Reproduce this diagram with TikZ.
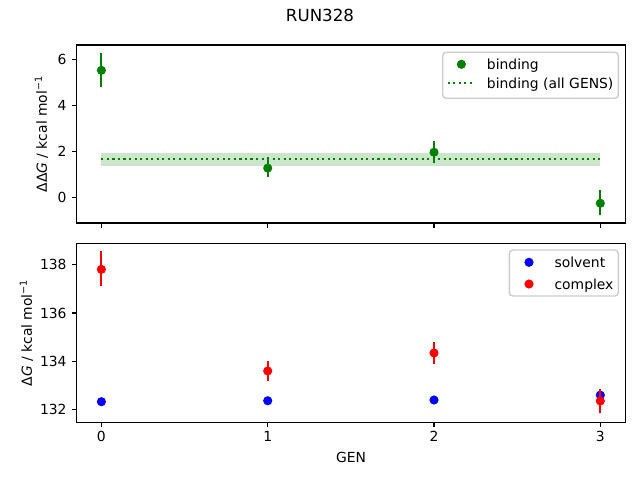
\documentclass[tikz,border=0pt]{standalone}
\usepackage{fontspec}
\setmainfont{DejaVu Sans}
\definecolor{mgreen}{HTML}{008000}
\definecolor{mblue}{HTML}{0000FF}
\definecolor{mred}{HTML}{FF0000}
\definecolor{bandc}{HTML}{CCE6CC}
\definecolor{legedge}{HTML}{CCCCCC}
\begin{document}
\begin{tikzpicture}[x=0.72pt,y=-0.72pt,
  spine/.style={line width=0.8pt, line cap=rect},
  tickmark/.style={line width=0.8pt},
  ebar/.style={line width=1.5pt},
  dotline/.style={line width=1.5pt, dash pattern=on 1.5pt off 2.475pt},
  lab/.style={font=\fontsize{10}{12}\selectfont, inner sep=0pt},
  legbox/.style={draw=legedge, line width=1pt, rounded corners=2.5pt, fill=white, fill opacity=0.8}
]
\def\mr{3.3pt}
\useasboundingbox (0,0) rectangle (640,480);
\node[font=\fontsize{12}{14}\selectfont, inner sep=0pt, anchor=base] (title) at (320,21.8) {RUN328};

% ---------- top axes ----------
\begin{scope}[shift={(101.4,197.3)}, x=119.74pt, y=16.56pt]
  \fill[bandc] (0,1.36) rectangle (3,1.91);
  \draw[mgreen, dotline] (0,1.68) -- (3,1.68);
  \draw[mgreen, ebar] (0,4.81) -- (0,6.27);
  \draw[mgreen, ebar] (1,0.87) -- (1,1.75);
  \draw[mgreen, ebar] (2,1.50) -- (2,2.45);
  \draw[mgreen, ebar] (3,-0.77) -- (3,0.32);
  \fill[mgreen] (0,5.52) circle[radius=\mr];
  \fill[mgreen] (1,1.27) circle[radius=\mr];
  \fill[mgreen] (2,1.96) circle[radius=\mr];
  \fill[mgreen] (3,-0.26) circle[radius=\mr];
\end{scope}
\draw[spine] (76.5,45) rectangle (625.2,223);
\foreach \px in {101.4,267.7,434.0,600.3} \draw[tickmark] (\px,223) -- (\px,227.9);
\foreach \py/\t in {197.3/0,151.3/2,105.3/4,59.3/6} {
  \draw[tickmark] (76.5,\py) -- (71.6,\py);
  \node[lab, anchor=east] (yt\t) at (66.8,\py) {\t};
}
\node[lab, rotate=90] (ylab1) at (41.5,134) {ΔΔ\textit{G} / kcal mol\textsuperscript{−1}};
% legend top
\draw[legbox] (442.7,52.3) rectangle (618.3,98.3);
\fill[mgreen] (461.4,64.3) circle[radius=\mr];
\node[lab, anchor=base west] (leg1a) at (486.7,69.3) {binding};
\draw[mgreen, dotline] (447.7,83.3) -- (475,83.3);
\node[lab, anchor=base west] (leg1b) at (486.7,88.3) {binding (all GENS)};

% ---------- bottom axes ----------
\begin{scope}[shift={(101.4,409.7)}, x=119.74pt, y=17.45pt]
  \fill[mblue] (0,0.33) circle[radius=\mr];
  \fill[mblue] (1,0.37) circle[radius=\mr];
  \fill[mblue] (2,0.40) circle[radius=\mr];
  \fill[mblue] (3,0.60) circle[radius=\mr];
  \draw[mred, ebar] (0,5.12) -- (0,6.55);
  \draw[mred, ebar] (1,1.20) -- (1,2.00);
  \draw[mred, ebar] (2,1.90) -- (2,2.79);
  \draw[mred, ebar] (3,-0.15) -- (3,0.84);
  \fill[mred] (0,5.79) circle[radius=\mr];
  \fill[mred] (1,1.60) circle[radius=\mr];
  \fill[mred] (2,2.34) circle[radius=\mr];
  \fill[mred] (3,0.36) circle[radius=\mr];
\end{scope}
\draw[spine] (76.5,243.3) rectangle (625.2,422.3);
\foreach \px/\t in {101.4/0,267.7/1,434.0/2,600.3/3} {
  \draw[tickmark] (\px,422.3) -- (\px,427.2);
  \node[lab, anchor=base] (xt\t) at (\px,441.7) {\t};
}
\foreach \py/\t in {409.7/132,361.2/134,313.0/136,264.3/138} {
  \draw[tickmark] (76.5,\py) -- (71.6,\py);
  \node[lab, anchor=east] (yb\t) at (66.8,\py) {\t};
}
\node[lab, rotate=90] (ylab2) at (26.5,332.8) {Δ\textit{G} / kcal mol\textsuperscript{−1}};
\node[lab, anchor=base] (xlab) at (351,462.7) {GEN};
% legend bottom
\draw[legbox] (509.3,250) rectangle (618.3,296);
\fill[mblue] (529,262.3) circle[radius=\mr];
\node[lab, anchor=base west] (leg2a) at (554.3,267.3) {solvent};
\fill[mred] (529,284) circle[radius=\mr];
\node[lab, anchor=base west] (leg2b) at (554.3,289) {complex};
\end{tikzpicture}
\end{document}
